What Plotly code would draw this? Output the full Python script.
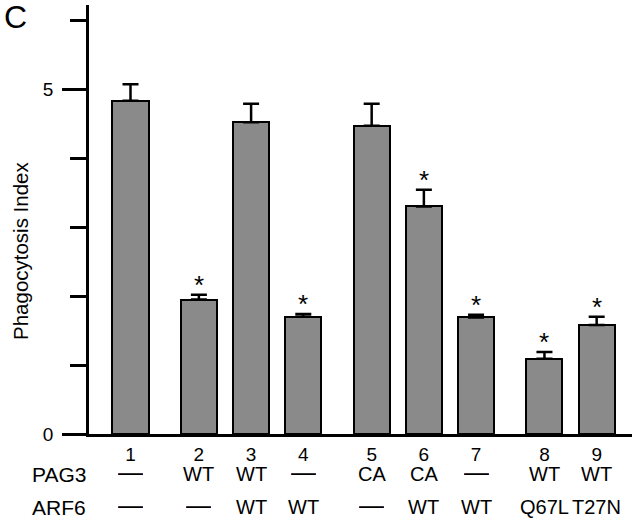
import plotly.graph_objects as go

# ---- data ----
lanes = ["1", "2", "3", "4", "5", "6", "7", "8", "9"]
pag3 = ["—", "WT", "WT", "—", "CA", "CA", "—", "WT", "WT"]
arf6 = ["—", "—", "WT", "WT", "—", "WT", "WT", "Q67L", "T27N"]
phago_index = [4.83, 1.95, 4.52, 1.70, 4.47, 3.30, 1.69, 1.09, 1.58]
phago_err = [0.24, 0.07, 0.27, 0.04, 0.32, 0.24, 0.04, 0.10, 0.12]
significant = [False, True, False, True, False, True, True, True, True]
group_id = [0, 1, 1, 1, 2, 2, 2, 3, 3]

# ---- layout helpers ----
GAP = 0.31
xpos = [i + 1 + GAP * g for i, g in enumerate(group_id)]
FONT = "Liberation Sans, Arial, Helvetica, sans-serif"
W, H = 640, 521
L, R, T, B = 89, 8, 5, 87
PW, PH = W - L - R, H - T - B


def px_x(px):
    return (px - L) / PW


def px_y(py):
    return (H - B - py) / PH


fig = go.Figure()
fig.add_trace(go.Bar(
    x=xpos, y=phago_index, width=0.69,
    marker=dict(color="#8a8a8a", line=dict(color="black", width=2)),
    error_y=dict(type="data", symmetric=False, array=phago_err,
                 arrayminus=[0] * len(phago_err),
                 color="black", thickness=2.5, width=8),
    showlegend=False, hoverinfo="skip",
))

annotations = []
for x, v, e, s in zip(xpos, phago_index, phago_err, significant):
    if s:
        annotations.append(dict(x=x, y=v + e, xref="x", yref="y", text="*",
                                showarrow=False, yanchor="bottom", yshift=-7,
                                font=dict(family=FONT, size=26, color="black")))


def row(labels, name, shift):
    annotations.append(dict(x=0, y=0, xref="paper", yref="paper", text=name,
                            showarrow=False, xanchor="right", yanchor="middle",
                            xshift=-1, yshift=shift,
                            font=dict(family=FONT, size=21, color="black")))
    for x, t in zip(xpos, labels):
        dash = t == "—"
        ann = dict(x=x, y=0, xref="x", yref="paper", text=t,
                   showarrow=False, xanchor="center", yanchor="middle",
                   yshift=shift + (2 if dash else 0),
                   font=dict(family=FONT, size=25 if dash else 20, color="black"))
        if dash:
            ann.update(height=14, valign="middle")
        annotations.append(ann)


row(pag3, "PAG3", -40)
row(arf6, "ARF6", -73)

annotations.append(dict(x=px_x(15), y=px_y(17), xref="paper", yref="paper", text="C",
                        showarrow=False, xanchor="center", yanchor="middle",
                        font=dict(family=FONT, size=32, color="black")))
annotations.append(dict(x=px_x(20), y=px_y(251), xref="paper", yref="paper",
                        text="Phagocytosis Index", textangle=-90,
                        showarrow=False, xanchor="center", yanchor="middle",
                        font=dict(family=FONT, size=20.5, color="black")))

fig.update_layout(
    width=W, height=H,
    margin=dict(l=L, r=R, t=T, b=B, pad=0, autoexpand=False),
    paper_bgcolor="white", plot_bgcolor="white",
    font=dict(family=FONT, size=18, color="black"),
    bargap=0,
    annotations=annotations,
    xaxis=dict(range=[0.205, 10.607], showline=True, linecolor="black", linewidth=2.5,
               tickvals=xpos, ticktext=lanes, ticks="", showgrid=False, zeroline=False,
               automargin=False,
               tickfont=dict(family=FONT, size=19, color="black"), ticklabelstandoff=1),
    yaxis=dict(range=[0, 6.22], showline=True, linecolor="black", linewidth=2.5,
               tickvals=[0, 5], ticktext=["0", "5"], ticks="outside", ticklen=24,
               tickwidth=2.5, tickcolor="black", showgrid=False, zeroline=False,
               automargin=False,
               tickfont=dict(family=FONT, size=19, color="black"), ticklabelstandoff=5,
               minor=dict(dtick=1, tick0=0, ticks="outside", ticklen=16, tickwidth=2.5,
                          tickcolor="black", showgrid=False)),
)

fig.write_html("out.html", config={"displayModeBar": False},
               post_script="document.body.style.margin='0px';document.body.style.overflow='hidden';")
